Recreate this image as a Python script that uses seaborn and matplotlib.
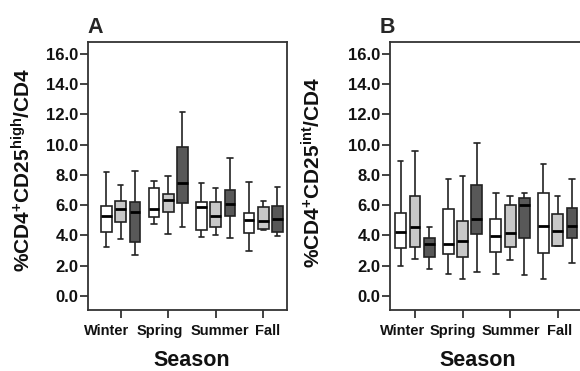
import numpy as np
import pandas as pd
import matplotlib
matplotlib.use('Agg')
import matplotlib.pyplot as plt
import matplotlib.transforms as mtrans
from matplotlib.ticker import FormatStrFormatter, FixedLocator
from matplotlib.font_manager import FontProperties
import seaborn as sns

sns.set_style('white')
plt.rcParams['font.family'] = ['Liberation Sans', 'DejaVu Sans']
plt.rcParams['font.weight'] = 'bold'
plt.rcParams['mathtext.fontset'] = 'custom'
plt.rcParams['mathtext.rm'] = 'Liberation Sans:bold'
plt.rcParams['mathtext.bf'] = 'Liberation Sans:bold'
plt.rcParams['mathtext.it'] = 'Liberation Sans:bold'
plt.rcParams['mathtext.sf'] = 'Liberation Sans:bold'
plt.rcParams['mathtext.default'] = 'rm'

seasons = ['Winter', 'Spring', 'Summer', 'Fall']
groups = ['Group 1', 'Group 2', 'Group 3']
colors = ['#ffffff', '#c8c8c8', '#585858']
yticks = [0, 2, 4, 6, 8, 10, 12, 14, 16]

# five-number summaries [min, q1, median, q3, max] per season (Winter, Spring, Summer, Fall)
a_group1 = [[3.24, 4.23, 5.29, 5.97, 8.22], [4.73, 5.22, 5.73, 7.16, 7.63],
            [3.92, 4.36, 5.91, 6.24, 7.49], [3.00, 4.14, 5.02, 5.51, 7.56]]
a_group2 = [[3.77, 4.89, 5.75, 6.28, 7.34], [4.08, 5.58, 6.35, 6.77, 7.96],
            [4.03, 4.58, 5.29, 6.19, 7.12], [4.38, 4.43, 4.96, 5.91, 6.28]]
a_group3 = [[2.73, 3.55, 5.58, 6.19, 8.26], [4.58, 6.17, 7.49, 9.87, 12.19],
            [3.81, 5.29, 6.08, 7.01, 9.15], [3.97, 4.25, 5.07, 5.97, 7.23]]

b_group1 = [[2.00, 3.15, 4.23, 5.47, 8.93], [1.43, 2.78, 3.42, 5.73, 7.74],
            [1.45, 2.93, 3.97, 5.07, 6.83], [1.12, 2.82, 4.65, 6.83, 8.73]]
b_group2 = [[2.43, 3.22, 4.58, 6.61, 9.61], [1.12, 2.56, 3.66, 4.98, 7.96],
            [2.38, 3.26, 4.19, 6.02, 6.61], [3.30, 3.33, 4.30, 5.40, 6.61]]
b_group3 = [[1.79, 2.56, 3.42, 3.81, 4.54], [1.61, 4.10, 5.09, 7.34, 10.09],
            [1.39, 3.81, 6.02, 6.46, 6.83], [2.20, 3.81, 4.63, 5.84, 7.71]]

ylabel_a = r'%CD4$^{+}$CD25$^{high}$/CD4'
ylabel_b = r'%CD4$^{+}$CD25$^{int}$/CD4'


def long_frame(g1, g2, g3):
    rows = []
    for gname, summ in zip(groups, [g1, g2, g3]):
        for s, vals in zip(seasons, summ):
            for v in vals:
                rows.append((s, gname, v))
    return pd.DataFrame(rows, columns=['Season', 'Group', 'Value'])


W, H = 580, 371
fig = plt.figure(figsize=(W / 100, H / 100), dpi=100)
fig.patch.set_facecolor('white')


def px_axes(l, t, r, b):
    return fig.add_axes([l / W, 1 - b / H, (r - l) / W, (b - t) / H])


def draw_panel(ax, df, xlim):
    sns.boxplot(data=df, x='Season', y='Value', hue='Group', order=seasons,
                hue_order=groups, palette=colors, saturation=1, width=0.9,
                gap=0.24, whis=(0, 100), showfliers=False,
                linecolor='#222222', linewidth=1.2,
                medianprops={'color': 'black', 'linewidth': 2.0},
                legend=False, ax=ax)
    ax.set_xlim(*xlim)
    ax.set_ylim(-0.93, 16.79)
    ax.yaxis.set_major_locator(FixedLocator(yticks))
    ax.yaxis.set_major_formatter(FormatStrFormatter('%.1f'))
    ax.set_xlabel('')
    ax.set_ylabel('')
    for sp in ax.spines.values():
        sp.set_visible(True)
        sp.set_linewidth(1.3)
        sp.set_color('#333333')
    ax.tick_params(axis='both', direction='out', length=5.5, width=1.3,
                   color='#333333', left=True, bottom=True,
                   labelcolor='#111111')
    ax.tick_params(axis='y', labelsize=12, pad=1.5)
    ax.tick_params(axis='x', labelsize=10.5, pad=4.5)


def style_labels(ax, label_offsets):
    for lab in ax.get_yticklabels():
        lab.set_fontproperties(FontProperties(family='Liberation Sans', weight='bold', size=12))
    for lab, dx in zip(ax.get_xticklabels(), label_offsets):
        lab.set_fontproperties(FontProperties(family='Liberation Sans', weight='bold', size=10.5))
        lab.set_transform(lab.get_transform() +
                          mtrans.ScaledTranslation(dx / 100, 0, fig.dpi_scale_trans))


axA = px_axes(88, 42, 287, 310)
axB = px_axes(390, 42, 581.5, 310)

draw_panel(axA, long_frame(a_group1, a_group2, a_group3), (-0.688, 3.50))
draw_panel(axB, long_frame(b_group1, b_group2, b_group3), (-0.526, 3.50))

fig.canvas.draw()
style_labels(axA, [-14, -8, 4, 4])
style_labels(axB, [-12, -10, 1, 2])

# panel letters
fig.text(87 / W, 1 - 33 / H, 'A', fontsize=15.5, fontweight='bold', ha='left', va='baseline')
fig.text(380 / W, 1 - 33 / H, 'B', fontsize=15.5, fontweight='bold', ha='left', va='baseline')

# y labels
fig.text(23 / W, 1 - 170 / H, ylabel_a, fontsize=15, fontweight='bold', rotation=90,
         ha='center', va='center', color='#111111')
fig.text(313 / W, 1 - 172 / H, ylabel_b, fontsize=15, fontweight='bold', rotation=90,
         ha='center', va='center', color='#111111')

# x labels
fig.text(191.7 / W, 1 - 366 / H, 'Season', fontsize=15.5, fontweight='bold',
         ha='center', va='baseline', color='#111111')
fig.text(478 / W, 1 - 366 / H, 'Season', fontsize=15.5, fontweight='bold',
         ha='center', va='baseline', color='#111111')

fig.savefig('out.png', dpi=100, facecolor='white')
